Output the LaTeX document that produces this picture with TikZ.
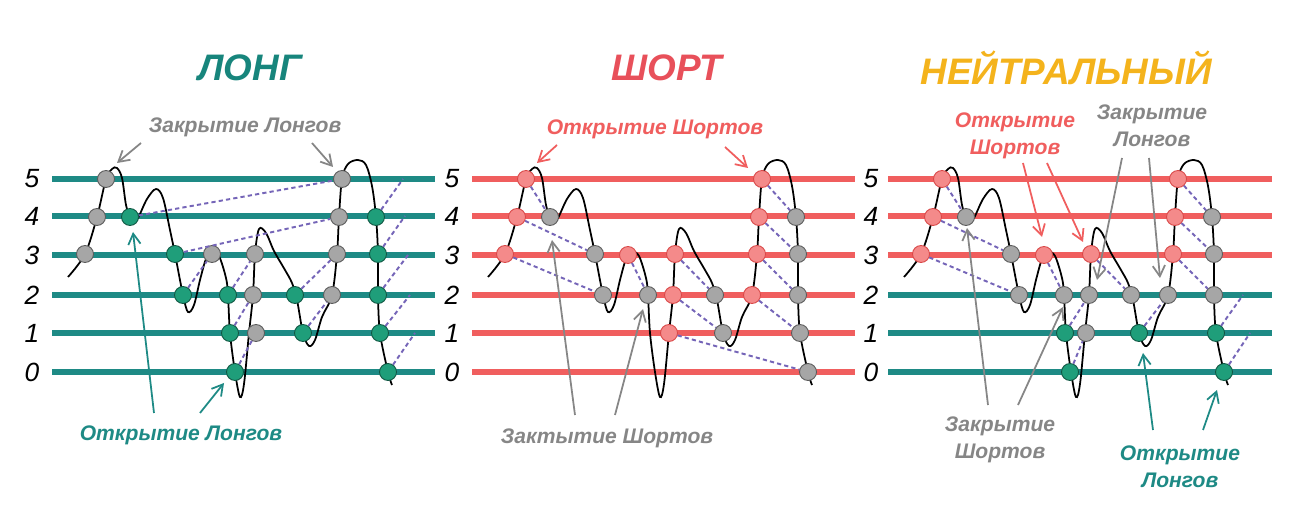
\documentclass[tikz,border=0pt]{standalone}
\usepackage{fontspec}
\setmainfont{Liberation Sans}
\usetikzlibrary{arrows.meta, positioning}
\definecolor{longteal}{HTML}{1E8A85}
\definecolor{longtitle}{HTML}{17857C}
\definecolor{shortred}{HTML}{F05E5E}
\definecolor{shorttitle}{HTML}{E8505A}
\definecolor{neutralorange}{HTML}{F4B31C}
\definecolor{dotgreen}{HTML}{1F9E7A}
\definecolor{dotred}{HTML}{F48A8A}
\definecolor{dotredline}{HTML}{D94848}
\definecolor{dotgray}{HTML}{A6A6A6}
\definecolor{taggray}{HTML}{868686}
\definecolor{linkpurple}{HTML}{7565B8}

\begin{document}
\begin{tikzpicture}[x=0.02cm, y=-0.02cm,
    lvl/.style={line width=3pt},
    dot/.style={circle, draw, line width=0.5pt, minimum size=0.34cm, inner sep=0pt},
    gdot/.style={dot, fill=dotgreen, draw=dotgreen!55!black},
    rdot/.style={dot, fill=dotred, draw=dotredline},
    kdot/.style={dot, fill=dotgray, draw=dotgray!55!black},
    link/.style={draw=linkpurple, line width=1.1pt, dash pattern=on 2.4pt off 1.8pt},
    ptr/.style={-{Straight Barb[angle=60:7pt]}, line width=1pt},
    tag/.style={font=\fontsize{12}{15.4}\selectfont\bfseries\itshape, align=center},
    title/.style={font=\fontsize{21}{24}\selectfont\bfseries\itshape},
    num/.style={font=\fontsize{15}{17}\selectfont\itshape}]
    \useasboundingbox[fill=white] (0,0) rectangle (1296,513);

    % titles
    \node[title, text=longtitle] (tlong) at (250,68) {ЛОНГ};
    \node[title, text=shorttitle] (tshort) at (667,68) {ШОРТ};
    \node[title, text=neutralorange] (tneutral) at (1066,68) {НЕЙТРАЛЬНЫЙ};

    % level lines and numbers
    \foreach \dx/\c in {0/longteal, 420/shortred} {
        \foreach \k/\yy in {0/372, 1/333, 2/295, 3/255, 4/216, 5/179} {
            \draw[lvl, \c] (52+\dx,\yy) -- (435+\dx,\yy);
            \node[num] at (32+\dx,\yy) {\k};
        }
    }
    \foreach \k/\yy/\c in {0/372/longteal, 1/333/longteal, 2/295/longteal, 3/255/shortred, 4/216/shortred, 5/179/shortred} {
        \draw[lvl, \c] (888,\yy) -- (1272,\yy);
        \node[num] at (871,\yy) {\k};
    }

    % price curve
    \foreach \dx in {0, 420, 836}
        \draw[line width=1pt, shift={(\dx,0)}] plot[smooth, tension=0.55] coordinates {
            (68,277) (85,254) (97,217) (106,179) (112,169) (117,168) (122,178) (126,205)
            (130,217) (133,222) (138,218) (147,199) (156,189) (163,198) (170,230) (175,254)
            (183,295) (188,312) (194,305) (200,280) (206,259) (212,252) (219,256) (226,278)
            (228,295) (230,333) (235,372) (240,397) (244,384) (249,333) (253,295) (255,254)
            (259,229) (266,233) (274,251) (285,270) (292,283) (297,300) (303,333) (309,346)
            (315,340) (322,317) (332,295) (337,254) (339,217) (342,179) (348,164) (358,160)
            (366,165) (372,186) (376,217) (378,254) (378,295) (380,333) (388,372) (392,385)};

    % ЛОНГ
    \begin{scope}
        \foreach \n/\x/\y in {1/85/254, 2/97/217, 3/106/179, 4/212/254, 5/255/254, 6/253/295,
            7/256/333, 8/332/295, 9/337/254, 10/339/217, 11/342/179}
            \node[kdot] (Lk\n) at (\x,\y) {};
        \foreach \n/\x/\y in {1/130/217, 2/175/254, 3/183/295, 4/228/295, 5/230/333, 6/235/372,
            7/295/295, 8/303/333, 9/376/217, 10/378/254, 11/378/295, 12/380/333, 13/388/372}
            \node[gdot] (Lg\n) at (\x,\y) {};
        \coordinate (Lf9) at (403,179);
        \coordinate (Lf10) at (405,216);
        \coordinate (Lf11) at (408,255);
        \coordinate (Lf12) at (410,295);
        \coordinate (Lf13) at (415,333);
        \foreach \a/\b in {Lg1/Lk11, Lg2/Lk10, Lg3/Lk4, Lg4/Lk5, Lg5/Lk6, Lg6/Lk7, Lg7/Lk9,
            Lg8/Lk8, Lg9/Lf9, Lg10/Lf10, Lg11/Lf11, Lg12/Lf12, Lg13/Lf13}
            \draw[link] (\a) -- (\b);
    \end{scope}

    % ШОРТ
    \begin{scope}[shift={(420,0)}]
        \foreach \n/\x/\y in {1/85/254, 2/97/217, 3/106/179, 4/208/255, 5/255/254, 6/253/295,
            7/249/333, 8/332/295, 9/337/254, 10/339/217, 11/342/179}
            \node[rdot] (Sr\n) at (\x,\y) {};
        \foreach \n/\x/\y in {1/130/217, 2/175/254, 3/183/295, 4/228/295, 5/295/295, 6/303/333,
            7/376/217, 8/378/254, 9/378/295, 10/380/333, 11/388/372}
            \node[kdot] (Sk\n) at (\x,\y) {};
        \foreach \a/\b in {Sr3/Sk1, Sr2/Sk2, Sr1/Sk3, Sr4/Sk4, Sr5/Sk5, Sr6/Sk6, Sr7/Sk11,
            Sr11/Sk7, Sr10/Sk8, Sr9/Sk9, Sr8/Sk10}
            \draw[link] (\a) -- (\b);
    \end{scope}

    % НЕЙТРАЛЬНЫЙ
    \begin{scope}[shift={(836,0)}]
        \foreach \n/\x/\y in {1/85/254, 2/97/217, 3/106/179, 4/208/255, 5/255/254,
            6/337/254, 7/339/217, 8/342/179}
            \node[rdot] (Nr\n) at (\x,\y) {};
        \foreach \n/\x/\y in {1/130/217, 2/175/254, 3/183/295, 4/228/295, 5/250/333, 6/253/295,
            7/295/295, 8/332/295, 9/376/217, 10/378/254, 11/378/295}
            \node[kdot] (Nk\n) at (\x,\y) {};
        \foreach \n/\x/\y in {1/229/333, 2/234/372, 3/303/333, 4/380/333, 5/388/372}
            \node[gdot] (Ng\n) at (\x,\y) {};
        \coordinate (Nf4) at (407,295);
        \coordinate (Nf5) at (414,333);
        \foreach \a/\b in {Nr3/Nk1, Nr2/Nk2, Nr1/Nk3, Nr4/Nk4, Nr5/Nk7, Ng1/Nk6, Ng2/Nk5,
            Ng3/Nk8, Nr8/Nk9, Nr7/Nk10, Nr6/Nk11, Ng4/Nf4, Ng5/Nf5}
            \draw[link] (\a) -- (\b);
    \end{scope}

    % labels
    \node[tag, text=taggray] (lclose) at (245,127) {Закрытие Лонгов};
    \node[tag, text=longteal] (lopen) at (181,435) {Открытие Лонгов};
    \node[tag, text=shortred] (sopen) at (655,129) {Открытие Шортов};
    \node[tag, text=taggray] (sclose) at (607,438) {Зактытие Шортов};
    \node[tag, text=shortred] (nsopen) at (1015,136) {Открытие\\Шортов};
    \node[tag, text=taggray] (nlclose) at (1152,126) {Закрытие\\Лонгов};
    \node[tag, text=taggray] (nsclose) at (1000,440) {Закрытие\\Шортов};
    \node[tag, text=longteal] (nlopen) at (1180,467) {Открытие\\Лонгов};

    % label arrows
    \coordinate (a1) at (141,143);   \coordinate (b1) at (117,163);
    \coordinate (a2) at (312,143);   \coordinate (b2) at (333,167);
    \coordinate (a3) at (154,413);   \coordinate (b3) at (133,232);
    \coordinate (a4) at (200,413);   \coordinate (b4) at (224,383);
    \coordinate (a5) at (557,145);   \coordinate (b5) at (537,163);
    \coordinate (a6) at (725,147);   \coordinate (b6) at (748,168);
    \coordinate (a7) at (575,415);   \coordinate (b7) at (552,240);
    \coordinate (a8) at (615,415);   \coordinate (b8) at (643,309);
    \coordinate (a9) at (1023,163);  \coordinate (b9) at (1042,237);
    \coordinate (a10) at (1047,163); \coordinate (b10) at (1083,242);
    \coordinate (a11) at (1122,158); \coordinate (b11) at (1097,280);
    \coordinate (a12) at (1149,158); \coordinate (b12) at (1160,278);
    \coordinate (a13) at (988,405);  \coordinate (b13) at (967,228);
    \coordinate (a14) at (1018,405); \coordinate (b14) at (1063,307);
    \coordinate (a15) at (1153,430); \coordinate (b15) at (1143,353);
    \coordinate (a16) at (1203,430); \coordinate (b16) at (1217,390);
    \foreach \i/\c in {1/taggray, 2/taggray, 3/longteal, 4/longteal, 5/shortred, 6/shortred,
        7/taggray, 8/taggray, 9/shortred, 10/shortred, 11/taggray, 12/taggray,
        13/taggray, 14/taggray, 15/longteal, 16/longteal}
        \draw[ptr, \c] (a\i) -- (b\i);
\end{tikzpicture}
\end{document}
